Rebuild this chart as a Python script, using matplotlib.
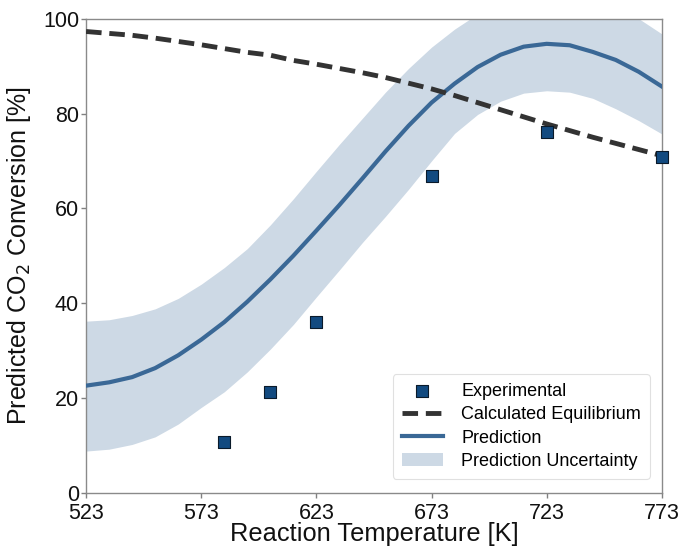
import matplotlib
matplotlib.use("Agg")
import matplotlib.pyplot as plt

plt.rcParams['font.family'] = ['Liberation Sans', 'DejaVu Sans']

# Data
temps = [523, 533, 543, 553, 563, 573, 583, 593, 603, 613, 623, 633, 643,
         653, 663, 673, 683, 693, 703, 713, 723, 733, 743, 753, 763, 773]
prediction = [22.6, 23.3, 24.4, 26.3, 29.0, 32.3, 36.0, 40.3, 45.0, 50.0,
              55.3, 60.7, 66.3, 72.0, 77.4, 82.3, 86.3, 89.8, 92.4, 94.1,
              94.7, 94.4, 93.0, 91.3, 88.8, 85.7]
pred_upper = [36.2, 36.5, 37.4, 38.8, 41.0, 44.0, 47.5, 51.5, 56.5, 62.0,
              67.8, 73.5, 79.0, 84.5, 89.5, 94.0, 97.8, 101.0, 104.0, 106.0,
              107.0, 107.0, 105.5, 103.0, 100.0, 96.8]
pred_lower = [8.8, 9.2, 10.2, 11.8, 14.5, 18.0, 21.3, 25.5, 30.3, 35.5,
              41.3, 47.0, 52.8, 58.3, 64.0, 70.0, 75.8, 79.8, 82.6, 84.3,
              84.8, 84.5, 83.2, 81.0, 78.5, 75.7]
equilibrium = [97.3, 96.9, 96.5, 95.9, 95.2, 94.5, 93.7, 92.9, 92.3, 91.2,
               90.4, 89.5, 88.6, 87.6, 86.4, 85.2, 83.8, 82.3, 80.8, 79.3,
               77.8, 76.4, 75.0, 73.7, 72.4, 71.1]
exp_temps = [583, 603, 623, 673, 723, 773]
exp_conv = [10.7, 21.3, 36.0, 66.8, 76.1, 70.9]

xticks = [523, 573, 623, 673, 723, 773]
yticks = [0, 20, 40, 60, 80, 100]

fig = plt.figure(figsize=(6.83, 5.5), dpi=100)
ax = fig.add_axes([0.126, 0.104, 0.843, 0.862])

line_color = '#3a6896'
band_color = '#cdd9e5'

sc = ax.scatter(exp_temps, exp_conv, marker='s', s=75, color='#124a80',
                edgecolor='#0a1a2a', linewidth=0.8, zorder=5, clip_on=False,
                label='Experimental')
eq, = ax.plot(temps, equilibrium, linestyle=(0, (3.2, 1.6)), color='#333333',
              linewidth=3.5, label='Calculated Equilibrium', zorder=4)
pl, = ax.plot(temps, prediction, color=line_color, linewidth=3.0,
              label='Prediction', zorder=3)
fb = ax.fill_between(temps, pred_lower, pred_upper, color=band_color,
                     alpha=1.0, linewidth=0, label='Prediction Uncertainty', zorder=2)

ax.set_xlim(523, 773)
ax.set_ylim(0, 100)
ax.set_xticks(xticks)
ax.set_yticks(yticks)
ax.tick_params(axis='both', labelsize=15.5, length=3.5, width=1, color='#808080',
               labelcolor='#111111', pad=1)
ax.tick_params(axis='x', pad=3.5)
ax.tick_params(axis='y', pad=1.5)
for sp in ax.spines.values():
    sp.set_color('#8a8a8a')
    sp.set_linewidth(1.0)

ax.set_xlabel('Reaction Temperature [K]', fontsize=18.3, labelpad=-1, color='#111111')
ax.set_ylabel('Predicted CO$_2$ Conversion [%]', fontsize=18, labelpad=7, color='#111111')

leg = ax.legend(handles=[sc, eq, pl, fb], loc='lower right', fontsize=13,
                frameon=True, fancybox=True, edgecolor='#d9d9d9',
                borderpad=0.5, labelspacing=0.35, handlelength=2.3,
                handletextpad=1.0, bbox_to_anchor=(0.995, 0.01))
leg.get_frame().set_linewidth(0.8)

fig.savefig('out.png', dpi=100)
